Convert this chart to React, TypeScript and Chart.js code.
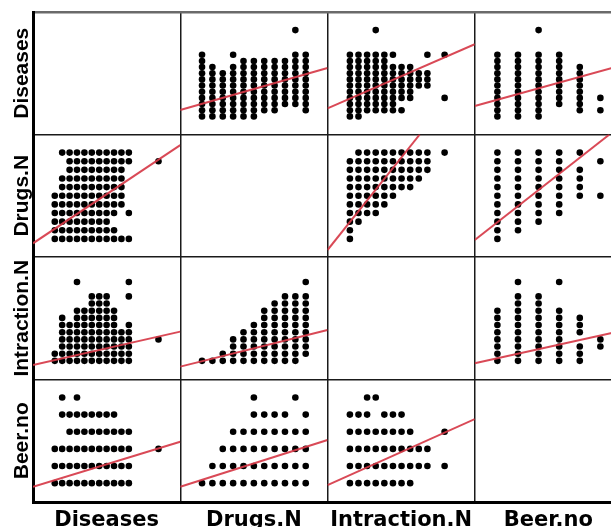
import { useEffect, useRef } from 'react';
import { Chart, registerables } from 'chart.js';

Chart.register(...registerables);

const varNames = ['Diseases', 'Drugs.N', 'Intraction.N', 'Beer.no'];
const axisMin = [-2.94, -2.1, -2.6, -1.1];
const axisMax = [16.94, 12.1, 14.5, 6.05];

// index = Drugs.N value, entries = Diseases values observed
const diseasesByDrugs: number[][] = [
  [0, 1, 2, 3, 4, 5, 6, 7, 8, 9, 10],
  [0, 1, 2, 3, 4, 5, 6, 7, 8],
  [0, 1, 2, 3, 4, 5, 6, 7],
  [0, 1, 2, 3, 4, 5, 6, 7, 8, 10],
  [0, 1, 2, 3, 4, 5, 6, 7, 8, 9],
  [0, 1, 2, 3, 4, 5, 6, 7, 8, 9],
  [1, 2, 3, 4, 5, 6, 7, 8, 9],
  [1, 2, 3, 4, 5, 6, 7, 8, 9],
  [2, 3, 4, 5, 6, 7, 8, 9],
  [2, 3, 4, 5, 6, 7, 8, 9, 10, 14],
  [1, 2, 3, 4, 5, 6, 7, 8, 9, 10],
];

// index = Intraction.N value, entries = Diseases values
const diseasesByIntraction: number[][] = [
  [0, 1, 2, 3, 4, 5, 6, 7, 8, 9, 10],
  [0, 1, 2, 3, 4, 5, 6, 7, 8, 9, 10],
  [1, 2, 3, 4, 5, 6, 7, 8, 9, 10],
  [1, 2, 3, 4, 5, 6, 7, 8, 9, 10, 14],
  [1, 2, 3, 4, 5, 6, 7, 8, 9, 10],
  [1, 2, 3, 4, 5, 6, 7, 8, 10],
  [1, 3, 4, 5, 6, 7, 8],
  [3, 4, 5, 6, 7, 8],
  [5, 6, 7],
  [5, 6, 7, 10],
  [],
  [3, 10],
];

// index = Beer.no value, entries = Diseases values
const diseasesByBeer: number[][] = [
  [0, 1, 2, 3, 4, 5, 6, 7, 8, 9, 10],
  [0, 1, 2, 3, 4, 5, 6, 7, 8, 9, 10],
  [0, 1, 2, 3, 4, 5, 6, 7, 8, 9, 10, 14],
  [2, 3, 4, 5, 6, 7, 8, 9, 10],
  [1, 2, 3, 4, 5, 6, 7, 8],
  [1, 3],
];

// index = Drugs.N value, entries = Intraction.N values
const intractionByDrugs: number[][] = [
  [0],
  [0],
  [0, 1],
  [0, 1, 2, 3],
  [0, 1, 2, 3, 4],
  [0, 1, 2, 3, 4, 5],
  [0, 1, 2, 3, 4, 5, 6, 7],
  [0, 1, 2, 3, 4, 5, 6, 7, 8],
  [0, 1, 2, 3, 4, 5, 6, 7, 8, 9],
  [0, 1, 2, 3, 4, 5, 6, 7, 8, 9],
  [1, 2, 3, 4, 5, 6, 7, 8, 9, 11],
];

// index = Beer.no value, entries = Drugs.N values
const drugsByBeer: number[][] = [
  [0, 1, 2, 3, 4, 5, 6, 7, 8, 9, 10],
  [1, 2, 3, 4, 5, 6, 7, 8, 9, 10],
  [2, 3, 4, 5, 6, 7, 8, 9, 10],
  [3, 4, 5, 6, 7, 8, 9, 10],
  [5, 6, 7, 8, 10],
  [5, 9],
];

// index = Beer.no value, entries = Intraction.N values
const intractionByBeer: number[][] = [
  [0, 1, 2, 3, 4, 5, 6, 7],
  [0, 1, 2, 3, 4, 5, 6, 7, 8, 9, 11],
  [0, 1, 2, 3, 4, 5, 6, 7, 8, 9],
  [0, 1, 2, 3, 4, 5, 6, 7, 11],
  [0, 1, 2, 4, 5, 6],
  [2, 3],
];

// fit lines per panel [row][col]: y(row var) = intercept + slope * x(col var)
const fitIntercept: (number | null)[][] = [
  [null, 2.05, 2.89, 2.71],
  [1.17, null, 1.96, 1.93],
  [0.12, -0.05, null, 0.36],
  [0.18, 0.196, 0.475, null],
];
const fitSlope: (number | null)[][] = [
  [null, 0.48, 0.608, 0.926],
  [0.573, null, 1.25, 1.87],
  [0.234, 0.36, null, 0.634],
  [0.132, 0.192, 0.225, null],
];

type Obs = Record<number, number>;

function buildPairs(byIdx: number[][], idxVar: number, valVar: number): Obs[] {
  const out: Obs[] = [];
  byIdx.forEach((vals, i) => {
    vals.forEach((v) => out.push({ [idxVar]: i, [valVar]: v }));
  });
  return out;
}

const pairTable = [
  { vars: [0, 1], pts: buildPairs(diseasesByDrugs, 1, 0) },
  { vars: [0, 2], pts: buildPairs(diseasesByIntraction, 2, 0) },
  { vars: [0, 3], pts: buildPairs(diseasesByBeer, 3, 0) },
  { vars: [1, 2], pts: buildPairs(intractionByDrugs, 1, 2) },
  { vars: [1, 3], pts: buildPairs(drugsByBeer, 3, 1) },
  { vars: [2, 3], pts: buildPairs(intractionByBeer, 3, 2) },
];

function fitSegment(r: number, c: number) {
  const a = fitIntercept[r][c] as number;
  const b = fitSlope[r][c] as number;
  const xmin = axisMin[c], xmax = axisMax[c];
  const ymin = axisMin[r], ymax = axisMax[r];
  let x1 = xmin, x2 = xmax;
  if (b > 0) {
    x1 = Math.max(xmin, (ymin - a) / b);
    x2 = Math.min(xmax, (ymax - a) / b);
  }
  return [
    { x: x1, y: a + b * x1 },
    { x: x2, y: a + b * x2 },
  ];
}

export default function App() {
  const ref = useRef<HTMLCanvasElement | null>(null);

  useEffect(() => {
    if (!ref.current) return;
    const datasets: any[] = [];
    for (let r = 0; r < 4; r++) {
      for (let c = 0; c < 4; c++) {
        if (r === c) continue;
        const pair = pairTable.find((p) => p.vars.includes(r) && p.vars.includes(c))!;
        datasets.push({
          type: 'scatter',
          data: pair.pts.map((p) => ({ x: p[c], y: p[r] })),
          xAxisID: 'x' + c,
          yAxisID: 'y' + r,
          backgroundColor: '#000',
          borderWidth: 0,
          pointRadius: 3.3,
          pointHoverRadius: 3.3,
          order: 2,
        });
        datasets.push({
          type: 'line',
          data: fitSegment(r, c),
          xAxisID: 'x' + c,
          yAxisID: 'y' + r,
          borderColor: 'rgba(214, 58, 72, 0.92)',
          borderWidth: 2,
          pointRadius: 0,
          fill: false,
          order: 1,
        });
      }
    }

    const scales: any = {};
    for (let c = 0; c < 4; c++) {
      scales['x' + c] = {
        type: 'linear',
        position: 'bottom',
        stack: 'cols',
        stackWeight: 1,
        weight: c + 1,
        min: axisMin[c],
        max: axisMax[c],
        afterBuildTicks: (ax: any) => {
          ax.ticks = [{ value: ax.max }];
        },
        ticks: { display: false },
        grid: { drawTicks: false, color: '#1a1a1a', lineWidth: 1.5 },
        border: { display: true, color: '#000', width: 3 },
        title: {
          display: true,
          text: varNames[c],
          color: '#000',
          font: { family: "'DejaVu Sans', sans-serif", size: 21, weight: 'bold', lineHeight: 1 },
          padding: { top: 8.5, bottom: 8.5 },
        },
      };
    }
    for (let r = 0; r < 4; r++) {
      scales['y' + r] = {
        type: 'linear',
        position: 'left',
        stack: 'rows',
        stackWeight: 1,
        weight: 4 - r,
        min: axisMin[r],
        max: axisMax[r],
        afterBuildTicks: (ax: any) => {
          ax.ticks = [{ value: ax.max }];
        },
        ticks: { display: false },
        grid: {
          drawTicks: false,
          color: r === 0 ? '#6a6a6a' : '#1a1a1a',
          lineWidth: r === 0 ? 2.5 : 1.5,
        },
        border: { display: true, color: '#000', width: 3 },
        title: {
          display: true,
          text: varNames[r],
          color: '#000',
          font: { family: "'Liberation Sans', Arial, sans-serif", size: 21, weight: 'bold', lineHeight: 1 },
          padding: { top: 12, bottom: 0 },
        },
      };
    }

    const chart = new Chart(ref.current, {
      type: 'scatter',
      data: { datasets },
      options: {
        animation: false,
        responsive: false,
        events: [],
        layout: { padding: { top: 12, right: 8, left: 0, bottom: 0 } },
        plugins: { legend: { display: false }, tooltip: { enabled: false } },
        scales,
      },
    } as any);
    return () => chart.destroy();
  }, []);

  return (
    <div
      style={{
        position: 'fixed',
        left: 0,
        top: 0,
        width: 611,
        height: 527,
        overflow: 'hidden',
        background: '#fff',
      }}
    >
      <canvas ref={ref} width={630} height={540} style={{ display: 'block' }} />
    </div>
  );
}
